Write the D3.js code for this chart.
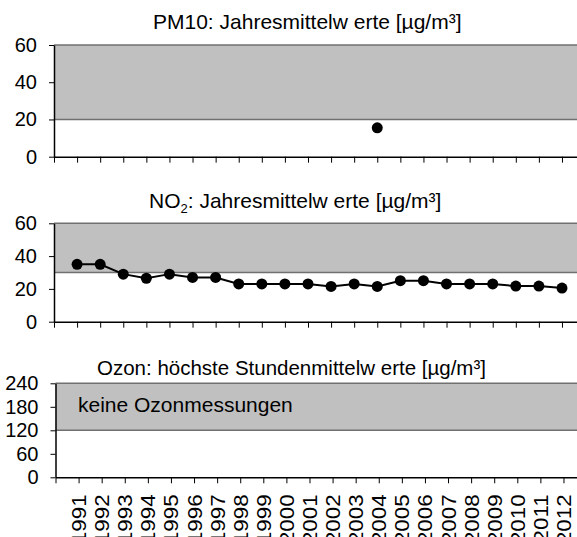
<!DOCTYPE html>
<html>
<head>
<meta charset="utf-8">
<script src="https://cdn.jsdelivr.net/npm/d3@7"></script>
<style>
  body { margin: 0; background: #fff; }
  svg { display: block; font-family: "Liberation Sans", Arial, sans-serif; }
</style>
</head>
<body>
<svg id="chart" width="577" height="537"></svg>
<script>
// years on the category axis (1990 and 2013 only carry a tick, no label)
const years = d3.range(1990, 2014);
const labelYears = d3.range(1991, 2013);

// PM10 annual means, only one year measured
const pm10Years = [2004];
const pm10Values = [15.5];

// NO2 annual means 1991-2012
const no2Years = d3.range(1991, 2013);
const no2Values = [35, 35, 29, 26.5, 29, 27, 27, 23, 23, 23, 23, 21.5, 23, 21.5, 25, 25, 23, 23, 23, 21.7, 21.7, 20.5];

// y ticks and limit bands per panel
const pm10Ticks = [0, 20, 40, 60];
const no2Ticks = [0, 20, 40, 60];
const ozonTicks = [0, 60, 120, 180, 240];
const pm10Limit = 20;
const no2Limit = 30;
const ozonLimit = 120;

const svg = d3.select('#chart');

function drawPanel(opts) {
    let g = svg.append('g');

    let x = d3.scaleLinear()
        .domain([1990, 2013])
        .range([opts.left, opts.left + 23 * 23.09]);

    let y = d3.scaleLinear()
        .domain([0, opts.ticks[opts.ticks.length - 1]])
        .range([opts.bottom, opts.top]);

    // grey band above the limit value
    g.append('rect')
        .attr('x', x(1990))
        .attr('y', y.range()[1])
        .attr('width', x(2013) - x(1990))
        .attr('height', y(opts.limit) - y.range()[1])
        .style('fill', '#c0c0c0');

    g.append('line')
        .attr('x1', x(1990)).attr('x2', x(2013))
        .attr('y1', y.range()[1]).attr('y2', y.range()[1])
        .style('stroke', '#707070')
        .style('stroke-width', 1.5);

    g.append('line')
        .attr('x1', x(1990)).attr('x2', x(2013))
        .attr('y1', y(opts.limit)).attr('y2', y(opts.limit))
        .style('stroke', '#707070')
        .style('stroke-width', 1.5);

    // title
    let title = g.append('text')
        .attr('x', opts.titleX)
        .attr('y', opts.titleY)
        .style('font-size', opts.titleSize || '21px')
        .style('fill', '#000');
    opts.title(title);

    let yAxis = d3.axisLeft(y)
        .tickValues(opts.ticks)
        .tickSize(5)
        .tickSizeOuter(0)
        .tickPadding(12);

    let xAxis = d3.axisBottom(x)
        .tickValues(years)
        .tickSize(6)
        .tickSizeOuter(0)
        .tickFormat(function(d) { return opts.labels && labelYears.indexOf(d) >= 0 ? d : ''; });

    let gx = g.append('g')
        .attr('transform', 'translate(0,' + opts.bottom + ')')
        .call(xAxis);

    let gy = g.append('g')
        .attr('transform', 'translate(' + opts.left + ',0)')
        .call(yAxis);

    [gx, gy].forEach(function(a) {
        a.select('.domain').style('stroke', '#000').style('stroke-width', 1.5);
        a.selectAll('.tick line').style('stroke', '#000').style('stroke-width', 1);
        a.selectAll('text')
            .style('font-size', '20px')
            .style('font-family', '"Liberation Sans", Arial, sans-serif')
            .style('fill', '#000');
    });

    if (opts.labels) {
        // year labels read bottom-to-top, a bit stretched like the original
        gx.selectAll('.tick text')
            .attr('transform', 'rotate(-90) scale(1.12,1)')
            .attr('x', -17 / 1.12)
            .attr('y', 0)
            .attr('dy', '0.35em')
            .style('text-anchor', 'end');
    }

    return {g: g, x: x, y: y};
}

// PM10
let p1 = drawPanel({
    left: 54, top: 45, bottom: 156.7, ticks: pm10Ticks, limit: pm10Limit,
    titleX: 153, titleY: 29,
    title: function(t) {
        t.text('PM10: Jahresmittelw erte [µg/m³]');
    }
});

p1.g.selectAll('circle')
    .data(pm10Years)
    .enter()
    .append('circle')
        .attr('cx', function(d) { return p1.x(d); })
        .attr('cy', function(d, i) { return p1.y(pm10Values[i]); })
        .attr('r', 5.5)
        .style('fill', '#000');

// NO2
let p2 = drawPanel({
    left: 54, top: 223.3, bottom: 321.7, ticks: no2Ticks, limit: no2Limit,
    titleX: 149, titleY: 208,
    title: function(t) {
        t.append('tspan').text('NO');
        t.append('tspan').attr('dy', 5).style('font-size', '13px').text('2');
        t.append('tspan').attr('dy', -5).text(': Jahresmittelw erte [µg/m³]');
    }
});

let line = d3.line()
    .x(function(d) { return p2.x(d); })
    .y(function(d, i) { return p2.y(no2Values[i]); });

p2.g.append('path')
    .datum(no2Years)
    .attr('d', line)
    .style('fill', 'none')
    .style('stroke', '#000')
    .style('stroke-width', 2);

p2.g.selectAll('circle')
    .data(no2Years)
    .enter()
    .append('circle')
        .attr('cx', function(d) { return p2.x(d); })
        .attr('cy', function(d, i) { return p2.y(no2Values[i]); })
        .attr('r', 5.5)
        .style('fill', '#000');

// Ozon
let p3 = drawPanel({
    left: 55.5, top: 383.3, bottom: 477.3, ticks: ozonTicks, limit: ozonLimit,
    titleX: 97, titleY: 375, titleSize: '20.5px', labels: true,
    title: function(t) {
        t.text('Ozon: höchste Stundenmittelw erte [µg/m³]');
    }
});

p3.g.append('text')
    .attr('x', 78)
    .attr('y', 412)
    .style('font-size', '21px')
    .style('fill', '#000')
    .text('keine Ozonmessungen');
</script>
</body>
</html>
